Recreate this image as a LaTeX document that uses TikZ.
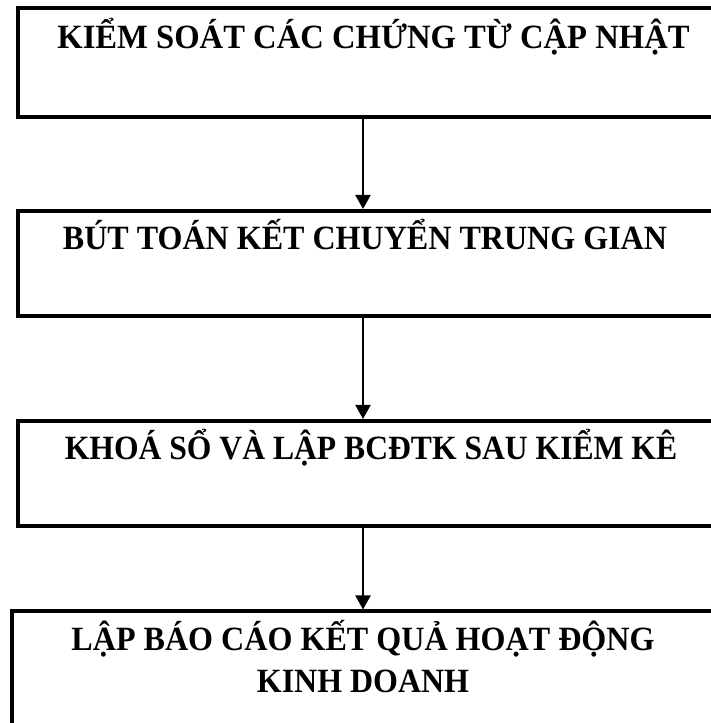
\documentclass[tikz,border=0pt]{standalone}
\usepackage{fontspec}
\setmainfont{Liberation Serif}
\usetikzlibrary{arrows.meta}
\begin{document}
\begin{tikzpicture}[x=1pt,y=1pt,
  box/.style={draw,line width=4pt,inner sep=0pt,anchor=north west},
  lbl/.style={inner sep=0pt,anchor=base,font=\fontsize{34}{43}\selectfont\bfseries,align=center},
  conn/.style={line width=2pt,-{Triangle[length=14pt,width=15pt]}}]
\useasboundingbox (0,0) rectangle (711,723);
\fill[white] (0,0) rectangle (711,723);
\node[box,minimum width=714pt,minimum height=108.5pt] (b1) at (16,716.5) {};
\node[box,minimum width=714pt,minimum height=105pt] (b2) at (16,514) {};
\node[box,minimum width=714pt,minimum height=105pt] (b3) at (16,304) {};
\node[box,minimum width=720pt,minimum height=140pt] (b4) at (9.5,113.5) {};
\node[lbl] (t1) at (373.5,674) {\scalebox{0.96}[1]{KIỂM SOÁT CÁC CHỨNG TỪ CẬP NHẬT}};
\node[lbl] (t2) at (365,473) {\scalebox{0.943}[1]{BÚT TOÁN KẾT CHUYỂN TRUNG GIAN}};
\node[lbl] (t3) at (371,263) {\scalebox{0.93}[1]{KHOÁ SỔ VÀ LẬP BCĐTK SAU KIỂM KÊ}};
\node[lbl] (t4) at (363,30) {\scalebox{0.944}[1]{LẬP BÁO CÁO KẾT QUẢ HOẠT ĐỘNG}\\\scalebox{0.94}[1]{KINH DOANH}};
\coordinate (ax) at (363,0);
\draw[conn] (b1.south -| ax) -- (b2.north -| ax);
\draw[conn] (b2.south -| ax) -- (b3.north -| ax);
\draw[conn] (b3.south -| ax) -- (b4.north -| ax);
\end{tikzpicture}
\end{document}
